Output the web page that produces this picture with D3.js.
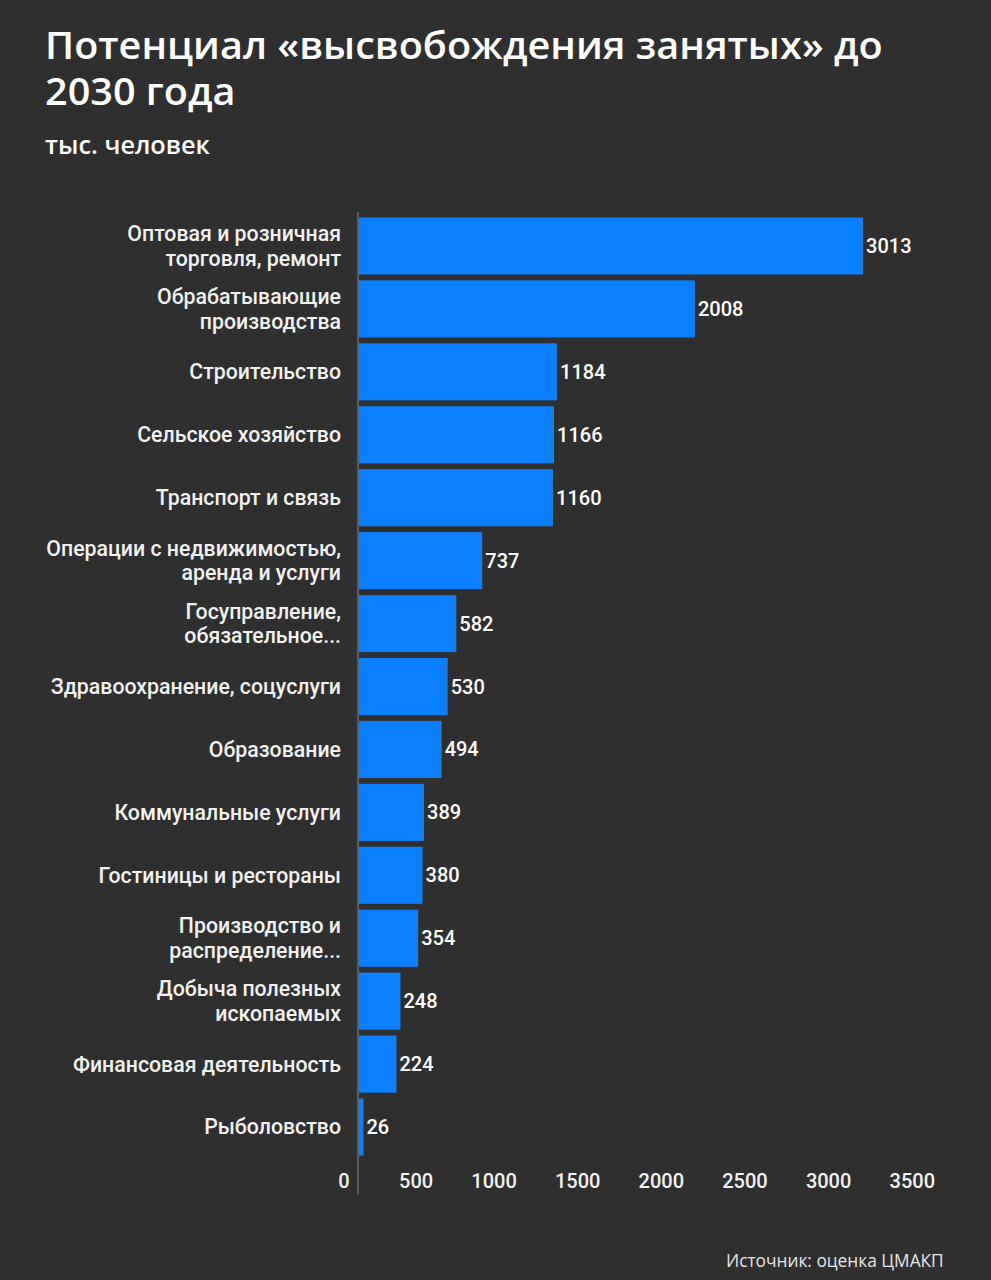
<!DOCTYPE html>
<html>
<head>
<meta charset="utf-8">
<script src="https://cdn.jsdelivr.net/npm/d3@7"></script>
<style>
html,body{margin:0;padding:0;background:#2f2f2f;}
svg{display:block;}
</style>
</head>
<body>
<svg id="chart" width="991" height="1280"></svg>
<script>
const categories = [
  ["Оптовая и розничная", "торговля, ремонт"],
  ["Обрабатывающие", "производства"],
  ["Строительство"],
  ["Сельское хозяйство"],
  ["Транспорт и связь"],
  ["Операции с недвижимостью,", "аренда и услуги"],
  ["Госуправление,", "обязательное..."],
  ["Здравоохранение, соцуслуги"],
  ["Образование"],
  ["Коммунальные услуги"],
  ["Гостиницы и рестораны"],
  ["Производство и", "распределение..."],
  ["Добыча полезных", "ископаемых"],
  ["Финансовая деятельность"],
  ["Рыболовство"]
];
const values = [3013, 2008, 1184, 1166, 1160, 737, 582, 530, 494, 389, 380, 354, 248, 224, 26];
const tickValues = [0, 500, 1000, 1500, 2000, 2500, 3000, 3500];
const titleLines = ["Потенциал «высвобождения занятых» до", "2030 года"];
const subtitle = "тыс. человек";
const source = "Источник: оценка ЦМАКП";

const svg = d3.select("#chart");
svg.append("rect").attr("width", 991).attr("height", 1280).attr("fill", "#2f2f2f");

// Title (one text element, two lines)
const tg = svg.append("g");
const tt = tg.append("text")
  .attr("font-family", "Open Sans").attr("font-weight", 600).attr("font-size", 37)
  .attr("fill", "#ffffff");
const tsp = tt.selectAll("tspan").data(titleLines).join("tspan")
  .attr("x", 0).attr("y", (d, k) => 59 + k * 46).text(d => d);
const w1 = tsp.nodes()[0].getComputedTextLength();
const sx = 838 / w1;
tg.attr("transform", `translate(45,0) scale(${sx},1)`);

const sg = svg.append("g");
const st = sg.append("text").attr("x", 0).attr("y", 154)
  .attr("font-family", "Open Sans").attr("font-weight", 600).attr("font-size", 25)
  .attr("fill", "#ffffff").text(subtitle);
const sw = st.node().getComputedTextLength();
sg.attr("transform", `translate(45,0) scale(${165 / sw},1)`);

// Scales
const x = d3.scaleLinear().domain([0, 3500]).range([359, 944.5]);
const idx = d3.range(values.length);
const y = d3.scaleBand().domain(idx).range([214.5, 1158.5]).paddingInner(0.093).paddingOuter(0.0465);

// Axis line
svg.append("line").attr("x1", 358).attr("x2", 358).attr("y1", 212).attr("y2", 1195)
  .attr("stroke", "#6a6a6a").attr("stroke-width", 1.5);

// Bars
svg.append("g").selectAll("rect").data(idx).join("rect")
  .attr("x", x(0))
  .attr("y", i => y(i))
  .attr("width", i => Math.max(4.5, x(values[i]) - x(0)))
  .attr("height", y.bandwidth())
  .attr("fill", "#0a80ff");

// Value labels
svg.append("g").selectAll("text").data(idx).join("text")
  .attr("x", i => Math.max(x(0) + 4.5, x(values[i])) + 3)
  .attr("y", i => y(i) + y.bandwidth() / 2)
  .attr("dy", "0.35em")
  .attr("font-family", "Roboto").attr("font-weight", 500).attr("font-size", 20)
  .attr("fill", "#ffffff").text(i => values[i]);

// Category labels
const cg = svg.append("g").selectAll("text").data(idx).join("text")
  .attr("text-anchor", "end")
  .attr("font-family", "Roboto").attr("font-weight", 500).attr("font-size", 21.3)
  .attr("fill", "#f2f2f2");
cg.each(function(i) {
  const lines = categories[i];
  const cy = y(i) + y.bandwidth() / 2;
  const lh = 24.5;
  const start = cy - (lines.length - 1) * lh / 2;
  d3.select(this).selectAll("tspan").data(lines).join("tspan")
    .attr("x", 341).attr("y", (d, k) => start + k * lh).attr("dy", "0.35em").text(d => d);
});

// X axis ticks
const axis = d3.axisBottom(x).tickValues(tickValues).tickSize(0).tickPadding(0).tickFormat(d3.format("d"));
const ag = svg.append("g").attr("transform", "translate(0,1181)").call(axis);
ag.select(".domain").remove();
ag.selectAll("text")
  .attr("text-anchor", "end").attr("x", -10).attr("y", 0).attr("dy", "0.35em")
  .attr("font-family", "Roboto").attr("font-weight", 500).attr("font-size", 20).attr("fill", "#f2f2f2");

// Source
const srcg = svg.append("g");
const srt = srcg.append("text").attr("x", 0).attr("y", 1267)
  .attr("font-family", "Open Sans").attr("font-size", 19)
  .attr("fill", "#e6e6e6").text(source);
const srw = srt.node().getComputedTextLength();
srcg.attr("transform", `translate(${944 - 218},0) scale(${218 / srw},1)`);
</script>
</body>
</html>
